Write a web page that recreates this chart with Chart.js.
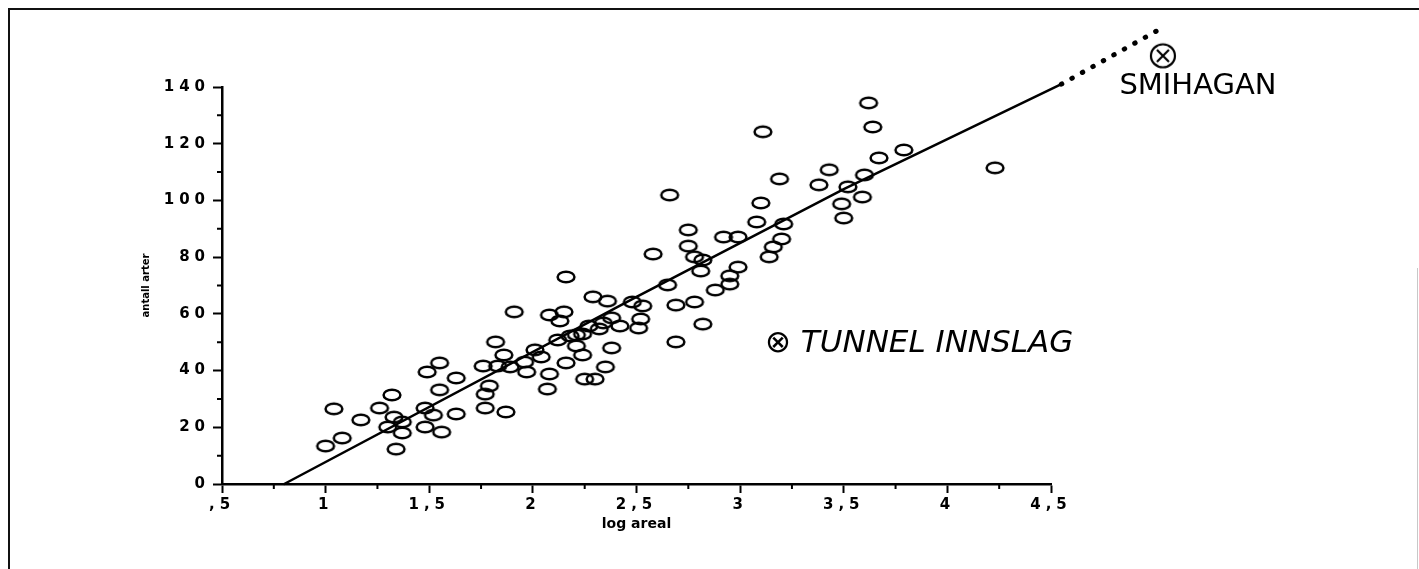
<!DOCTYPE html>
<html>
<head>
<meta charset="utf-8">
<script src="https://cdn.jsdelivr.net/npm/chart.js@4/dist/chart.umd.min.js"></script>
<style>
  html, body { margin: 0; padding: 0; background: #fff; }
  #wrap { position: relative; width: 1419px; height: 569px; overflow: hidden; }
  #frame { position: absolute; left: 8px; top: 8px; width: 1430px; height: 580px;
           border-top: 2px solid #111; border-left: 2px solid #111; }
  #edge { position: absolute; left: 1417px; top: 268px; width: 1px; height: 301px; background: #c8c8c8; }
  canvas { position: absolute; left: 0; top: 0; }
</style>
</head>
<body>
<div id="wrap">
  <div id="frame"></div>
  <div id="edge"></div>
  <canvas id="chart" width="1419" height="569"></canvas>
</div>
<script>
// localities: log area vs number of species
const logAreal = [
  1.00, 1.04, 1.08, 1.17, 1.26, 1.32, 1.30, 1.33, 1.37, 1.37, 1.34,
  1.48, 1.49, 1.55, 1.55, 1.52, 1.48, 1.56, 1.63, 1.63,
  1.76, 1.82, 1.86, 1.91, 1.77, 1.79, 1.77, 1.87, 1.83, 1.89, 1.96, 1.97,
  2.01, 2.04, 2.07, 2.08, 2.08, 2.15, 2.13, 2.12, 2.18, 2.16, 2.16,
  2.21, 2.24, 2.21, 2.24, 2.27, 2.32, 2.34, 2.29, 2.36, 2.25, 2.30,
  2.38, 2.35, 2.38, 2.42, 2.48, 2.53, 2.52, 2.51,
  2.58, 2.65, 2.66, 2.69, 2.69, 2.75, 2.75, 2.78, 2.82, 2.81, 2.78, 2.82,
  2.88, 2.92, 2.99, 2.99, 2.95, 2.95,
  3.10, 3.08, 3.11, 3.14, 3.16, 3.20, 3.21, 3.19,
  3.38, 3.43, 3.49, 3.50, 3.52, 3.59, 3.60, 3.62, 3.64, 3.67, 3.79, 4.23
];
const antallArter = [
  13.4, 26.5, 16.2, 22.6, 26.8, 31.4, 20.1, 23.6, 21.9, 18.0, 12.3,
  26.8, 39.5, 42.7, 33.2, 24.3, 20.1, 18.3, 37.4, 24.7,
  41.6, 50.1, 45.5, 60.7, 31.7, 34.6, 26.8, 25.4, 41.6, 41.3, 43.0, 39.5,
  47.3, 44.8, 33.5, 38.8, 59.6, 60.7, 57.5, 50.8, 52.2, 42.7, 73.0,
  48.7, 45.5, 52.6, 52.9, 55.7, 54.7, 56.8, 66.0, 64.5, 37.0, 37.0,
  48.0, 41.3, 58.6, 55.7, 64.2, 62.8, 58.2, 55.0,
  81.1, 70.2, 101.9, 63.1, 50.1, 89.6, 83.9, 80.1, 79.0, 75.1, 64.2, 56.4,
  68.4, 87.1, 87.1, 76.5, 73.4, 70.5,
  99.1, 92.4, 124.2, 80.1, 83.6, 86.4, 91.7, 107.6,
  105.5, 110.8, 98.8, 93.8, 104.8, 101.2, 109.0, 134.4, 125.9, 115.0, 117.8, 111.5
];

// fitted line and its dotted extrapolation
const fitX = [0.8, 2.5, 3.5, 4.55];
const fitY = [0, 66, 104, 141];
const extX = [4.55, 5.04];
const extY = [141, 161];

const smihaganX = [5.04];
const smihaganY = [151];

// axes
const xTicks = [0.5, 1, 1.5, 2, 2.5, 3, 3.5, 4, 4.5];
const xTickLabels = [',5', '1', '1,5', '2', '2,5', '3', '3,5', '4', '4,5'];
const xMinorTicks = [0.75, 1.25, 1.75, 2.25, 2.75, 3.25, 3.75, 4.25];
const yTicks = [0, 20, 40, 60, 80, 100, 120, 140];
const yTickLabels = ['0', '20', '40', '60', '80', '100', '120', '140'];
const yMinorTicks = [10, 30, 50, 70, 90, 110, 130];

// handwritten notes, anchored in data units
const notes = [
  { text: '\u2297 TUNNEL INNSLAG', x: 3.12, y: 46.5, font: 'italic 31px "DejaVu Sans"' },
  { text: 'SMIHAGAN', x: 4.83, y: 137.5, font: '29px "DejaVu Sans"' }
];

// open ellipse marker
function makeEllipse() {
  const c = document.createElement('canvas');
  c.width = 22; c.height = 16;
  const g = c.getContext('2d');
  g.strokeStyle = '#000';
  g.lineWidth = 2.5;
  g.beginPath();
  g.ellipse(11, 8, 8.4, 5.3, 0, 0, Math.PI * 2);
  g.stroke();
  return c;
}

// circle with a cross
function makeCrossCircle() {
  const c = document.createElement('canvas');
  c.width = 30; c.height = 30;
  const g = c.getContext('2d');
  g.strokeStyle = '#000';
  g.lineWidth = 2.2;
  g.beginPath();
  g.ellipse(15, 15, 12, 11.5, 0, 0, Math.PI * 2);
  g.stroke();
  g.beginPath();
  g.moveTo(9, 9); g.lineTo(21, 21);
  g.moveTo(21, 9); g.lineTo(9, 21);
  g.stroke();
  return c;
}
const crossCircle = makeCrossCircle();

// tick labels are spaced out, axis titles are not
const drawTitle = Chart.Scale.prototype.drawTitle;
Chart.Scale.prototype.drawTitle = function () {
  const ls = this.ctx.letterSpacing;
  this.ctx.letterSpacing = '0px';
  drawTitle.call(this);
  this.ctx.letterSpacing = ls;
};

const extras = {
  id: 'extras',
  beforeDraw(chart) {
    chart.ctx.letterSpacing = '5px';
  },
  afterDraw(chart) {
    const { ctx, scales: { x, y } } = chart;
    ctx.save();
    ctx.letterSpacing = '0px';

    // minor ticks
    ctx.strokeStyle = '#000';
    ctx.lineWidth = 2;
    ctx.beginPath();
    xMinorTicks.forEach(v => {
      const px = x.getPixelForValue(v);
      ctx.moveTo(px, x.top);
      ctx.lineTo(px, x.top + 5);
    });
    yMinorTicks.forEach(v => {
      const py = y.getPixelForValue(v);
      ctx.moveTo(y.right, py);
      ctx.lineTo(y.right - 5, py);
    });
    ctx.stroke();

    // Smihagan lies outside the axes, so the chart area would hide it
    smihaganX.forEach((v, i) => {
      const px = x.getPixelForValue(v);
      const py = y.getPixelForValue(smihaganY[i]);
      ctx.drawImage(crossCircle, px - crossCircle.width / 2, py - crossCircle.height / 2);
    });

    // notes
    ctx.fillStyle = '#000';
    ctx.textAlign = 'left';
    ctx.textBaseline = 'alphabetic';
    notes.forEach(n => {
      ctx.font = n.font;
      ctx.fillText(n.text, x.getPixelForValue(n.x), y.getPixelForValue(n.y));
    });
    ctx.restore();
  }
};

const tickFont = { family: 'DejaVu Sans', size: 15, weight: 'bold' };

const ctx = document.getElementById('chart');
const chart = new Chart(ctx, {
  type: 'scatter',
  data: {
    datasets: [
      {
        label: 'lokaliteter',
        data: logAreal.map((v, i) => ({ x: v, y: antallArter[i] })),
        pointStyle: makeEllipse(),
        pointRadius: 9,
        pointHoverRadius: 9
      },
      {
        type: 'line',
        label: 'regresjon',
        data: fitX.map((v, i) => ({ x: v, y: fitY[i] })),
        showLine: true,
        borderColor: '#000',
        borderWidth: 2.5,
        borderCapStyle: 'round',
        pointRadius: 0,
        fill: false,
        tension: 0,
        clip: false
      },
      {
        type: 'line',
        label: 'ekstrapolert',
        data: extX.map((v, i) => ({ x: v, y: extY[i] })),
        showLine: true,
        borderColor: '#000',
        borderWidth: 5,
        borderCapStyle: 'round',
        borderDash: [0.5, 11.5],
        pointRadius: 0,
        fill: false,
        clip: false
      }
    ]
  },
  options: {
    responsive: false,
    animation: false,
    layout: { padding: { left: 130, top: 87, right: 368, bottom: 33 } },
    plugins: {
      legend: { display: false },
      tooltip: { enabled: false }
    },
    scales: {
      x: {
        type: 'linear',
        min: 0.5,
        max: 4.5,
        afterBuildTicks: s => { s.ticks = xTicks.map(v => ({ value: v })); },
        afterFit: s => { s.height = 52; },
        ticks: {
          callback: (v, i) => xTickLabels[i],
          font: tickFont,
          color: '#000',
          padding: 3,
          maxRotation: 0,
          autoSkip: false
        },
        grid: { drawOnChartArea: false, tickLength: 9, tickWidth: 2, tickColor: '#000' },
        border: { display: true, color: '#000', width: 2.5 },
        title: {
          display: true,
          text: 'log areal',
          color: '#000',
          font: { family: 'DejaVu Sans', size: 14, weight: 'bold' },
          padding: { top: 0, bottom: 3 }
        }
      },
      y: {
        min: 0,
        max: 140,
        afterBuildTicks: s => { s.ticks = yTicks.map(v => ({ value: v })); },
        afterFit: s => { s.width = 92; },
        ticks: {
          callback: (v, i) => yTickLabels[i],
          font: tickFont,
          color: '#000',
          padding: 3
        },
        grid: { drawOnChartArea: false, tickLength: 9, tickWidth: 2, tickColor: '#000' },
        border: { display: true, color: '#000', width: 2.5 },
        title: {
          display: true,
          text: 'antall arter',
          color: '#000',
          font: { family: 'DejaVu Sans', size: 10, weight: 'bold' },
          padding: { top: 10, bottom: 0 }
        }
      }
    }
  },
  plugins: [extras]
});
</script>
</body>
</html>
